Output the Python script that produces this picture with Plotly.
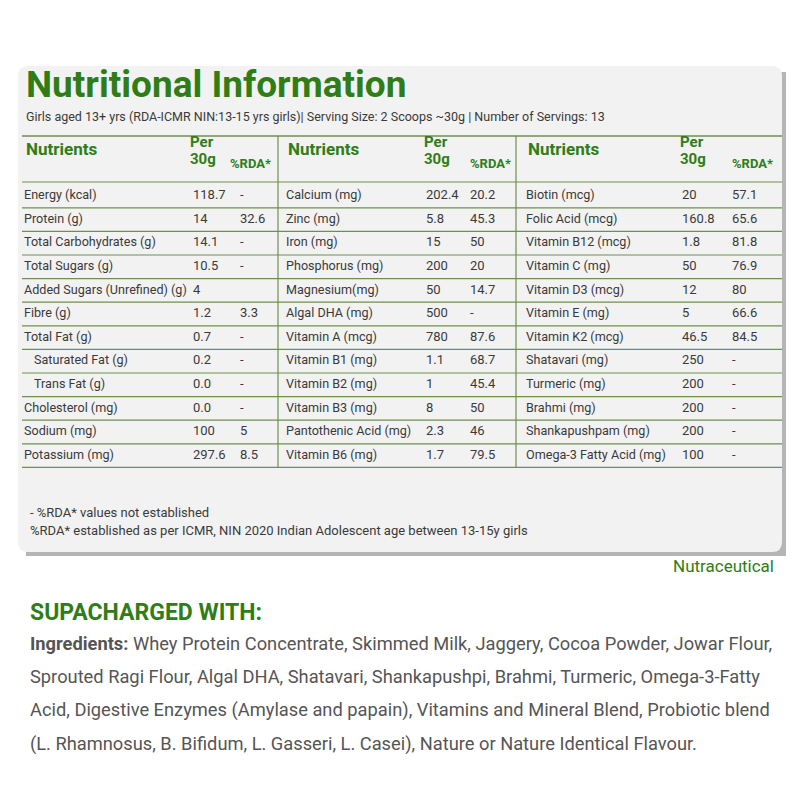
import plotly.graph_objects as go

GREEN = '#2f7d17'
TEXT = '#3a3a3a'
FONT = 'Roboto, sans-serif'

# table data: three column groups
names1 = ['Energy (kcal)', 'Protein (g)', 'Total Carbohydrates (g)', 'Total Sugars (g)',
          'Added Sugars (Unrefined) (g)', 'Fibre (g)', 'Total Fat (g)', 'Saturated Fat (g)',
          'Trans Fat (g)', 'Cholesterol (mg)', 'Sodium (mg)', 'Potassium (mg)']
per1 = ['118.7', '14', '14.1', '10.5', '4', '1.2', '0.7', '0.2', '0.0', '0.0', '100', '297.6']
rda1 = ['-', '32.6', '-', '-', '', '3.3', '-', '-', '-', '-', '5', '8.5']
indent1 = [0, 0, 0, 0, 0, 0, 0, 1, 1, 0, 0, 0]

names2 = ['Calcium (mg)', 'Zinc (mg)', 'Iron (mg)', 'Phosphorus (mg)', 'Magnesium(mg)',
          'Algal DHA (mg)', 'Vitamin A (mcg)', 'Vitamin B1 (mg)', 'Vitamin B2 (mg)',
          'Vitamin B3 (mg)', 'Pantothenic Acid (mg)', 'Vitamin B6 (mg)']
per2 = ['202.4', '5.8', '15', '200', '50', '500', '780', '1.1', '1', '8', '2.3', '1.7']
rda2 = ['20.2', '45.3', '50', '20', '14.7', '-', '87.6', '68.7', '45.4', '50', '46', '79.5']

names3 = ['Biotin (mcg)', 'Folic Acid (mcg)', 'Vitamin B12 (mcg)', 'Vitamin C (mg)',
          'Vitamin D3 (mcg)', 'Vitamin E (mg)', 'Vitamin K2 (mcg)', 'Shatavari (mg)',
          'Turmeric (mg)', 'Brahmi (mg)', 'Shankapushpam (mg)', 'Omega-3 Fatty Acid (mg)']
per3 = ['20', '160.8', '1.8', '50', '12', '5', '46.5', '250', '200', '200', '200', '100']
rda3 = ['57.1', '65.6', '81.8', '76.9', '80', '66.6', '84.5', '-', '-', '-', '-', '-']

ingredients = [
    '<b>Ingredients:</b> Whey Protein Concentrate, Skimmed Milk, Jaggery, Cocoa Powder, Jowar Flour,',
    'Sprouted Ragi Flour, Algal DHA, Shatavari, Shankapushpi, Brahmi, Turmeric, Omega-3-Fatty',
    'Acid, Digestive Enzymes (Amylase and papain), Vitamins and Mineral Blend, Probiotic blend',
    '(L. Rhamnosus, B. Bifidum, L. Gasseri, L. Casei), Nature or Nature Identical Flavour.',
]

ROW0 = 196
PITCH = 23.6

fig = go.Figure()
shapes = []

# panel with shadow
shapes.append(dict(type='path', path='M 26 72 L 786 72 L 786 556 L 26 556 Z',
                   fillcolor='#b5b5b5', line=dict(width=0), layer='below'))
shapes.append(dict(type='path',
                   path='M 30 66 L 772 66 Q 782 66 782 76 L 782 542 Q 782 552 772 552 '
                        'L 28 552 Q 18 552 18 542 L 18 76 Q 18 66 28 66 Z',
                   fillcolor='#f2f2f2', line=dict(width=0), layer='below'))

rows = len(names1)
# horizontal rules
ys = [136, 182] + [ROW0 + PITCH * (i + 0.5) for i in range(rows)]
for y in ys:
    shapes.append(dict(type='line', x0=22, x1=782, y0=y, y1=y,
                       line=dict(color='#6f8f4f', width=1.6 if y == 136 else 1.2)))
for x in [278, 516]:
    shapes.append(dict(type='line', x0=x, x1=x, y0=136, y1=ys[-1],
                       line=dict(color='#6f8f4f', width=1.2)))

row_y = [ROW0 + PITCH * i for i in range(rows)]

groups = [(names1, per1, rda1, indent1, 24, 193, 240),
          (names2, per2, rda2, [0] * rows, 286, 426, 470),
          (names3, per3, rda3, [0] * rows, 526, 682, 732)]
for names, per, rda, ind, xn, xp, xr in groups:
    for xs, txt, sz in [([xn + 10 * k for k in ind], names, 12.6),
                        ([xp] * rows, per, 13), ([xr] * rows, rda, 13)]:
        fig.add_trace(go.Scatter(x=xs, y=row_y, text=txt, mode='text',
                                 textposition='middle right',
                                 textfont=dict(family=FONT, size=sz, color=TEXT)))

annotations = []


def note(x, y, text, size, color=TEXT, bold=False, anchor='left'):
    annotations.append(dict(x=x, y=y, xref='x', yref='y', text=f'<b>{text}</b>' if bold else text,
                            showarrow=False, xanchor=anchor, yanchor='middle',
                            font=dict(family=FONT, size=size, color=color)))


note(24, 84, 'Nutritional Information', 37, GREEN, True)
note(24, 116, 'Girls aged 13+ yrs (RDA-ICMR NIN:13-15 yrs girls)| Serving Size: 2 Scoops ~30g | '
     'Number of Servings: 13', 12.5)
for xn, xp, xr in [(24, 188, 228), (286, 422, 468), (526, 678, 730)]:
    note(xn, 149, 'Nutrients', 17, GREEN, True)
    note(xp, 142, 'Per', 15, GREEN, True)
    note(xp, 159, '30g', 15, GREEN, True)
    note(xr, 163, '%RDA*', 13, GREEN, True)

note(28, 512, '- %RDA* values not established', 13)
note(28, 530, '%RDA* established as per ICMR, NIN 2020 Indian Adolescent age between 13-15y girls', 13)
note(776, 566, 'Nutraceutical', 17, GREEN, anchor='right')
note(28, 612, 'SUPACHARGED WITH:', 23, GREEN, True)
for i, line in enumerate(ingredients):
    note(28, 643 + 33.5 * i, line, 18.3, '#555555')

# page body has an 8px margin, so the axes start at 8 to keep pixel coordinates
fig.update_layout(
    width=800, height=800, margin=dict(l=0, r=0, t=0, b=0),
    paper_bgcolor='white', plot_bgcolor='white', showlegend=False,
    shapes=shapes, annotations=annotations,
    xaxis=dict(range=[8, 808], visible=False, fixedrange=True),
    yaxis=dict(range=[808, 8], visible=False, fixedrange=True),
)
fig.write_html('out.html')
